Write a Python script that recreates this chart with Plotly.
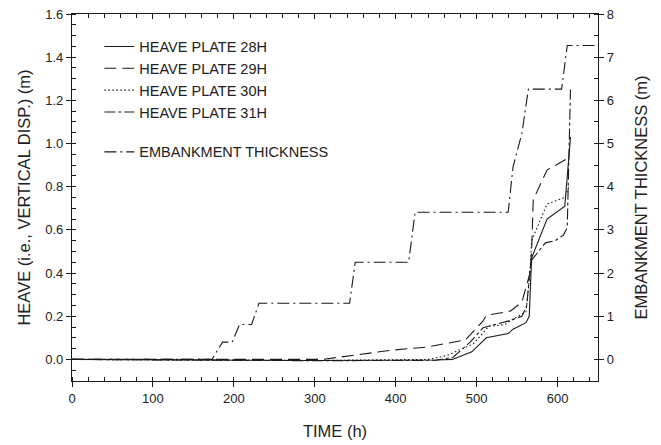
import plotly.graph_objects as go

# ---------------- data ----------------
t_28h = [0, 300, 450, 470, 494, 512, 539, 545, 561, 565, 568, 587, 609, 616]
h_28h = [0.0, -0.005, -0.003, 0.0, 0.035, 0.10, 0.12, 0.14, 0.17, 0.20, 0.47, 0.65, 0.71, 1.03]

t_29h = [0, 300, 310, 393, 438, 486, 508, 512, 542, 556, 566, 568, 570, 587, 605, 612]
h_29h = [0.0, -0.003, 0.0, 0.042, 0.057, 0.09, 0.178, 0.204, 0.224, 0.266, 0.40, 0.506, 0.74, 0.877, 0.915, 0.93]

t_30h = [0, 300, 440, 463, 496, 515, 535, 546, 561, 566, 568, 587, 609, 614]
h_30h = [0.0, -0.005, 0.0, 0.018, 0.072, 0.153, 0.162, 0.189, 0.22, 0.40, 0.55, 0.72, 0.75, 0.80]

t_31h = [0, 300, 450, 471, 492, 508, 541, 556, 562, 566, 568, 585, 597, 607, 612, 616]
h_31h = [0.0, -0.006, -0.004, 0.01, 0.08, 0.147, 0.18, 0.20, 0.25, 0.42, 0.46, 0.54, 0.55, 0.575, 0.61, 1.25]

t_emb = [0, 173, 186, 198, 207, 222, 231, 343, 350, 416, 424, 539, 545, 556, 564, 605, 612, 650]
e_emb = [0, 0, 0.4, 0.4, 0.81, 0.81, 1.3, 1.3, 2.25, 2.25, 3.41, 3.41, 4.46, 5.24, 6.26, 6.26, 7.27, 7.27]

heave_ticks = [0.0, 0.2, 0.4, 0.6, 0.8, 1.0, 1.2, 1.4, 1.6]
emb_ticks = [0, 1, 2, 3, 4, 5, 6, 7, 8]
time_ticks = [0, 100, 200, 300, 400, 500, 600]

# ---------------- styling ----------------
INK = "#1a1a1a"
FONT = "Liberation Sans, Arial, sans-serif"
LW = 1.1

fig = go.Figure()

series = [
    ("HEAVE PLATE 28H", t_28h, h_28h, "solid"),
    ("HEAVE PLATE 29H", t_29h, h_29h, "12px,6px"),
    ("HEAVE PLATE 30H", t_30h, h_30h, "1.5px,2.5px"),
    ("HEAVE PLATE 31H", t_31h, h_31h, "11px,3px,3px,3px"),
]
for name, tx, hy, dash in series:
    fig.add_trace(go.Scatter(
        x=tx, y=hy, name=name, mode="lines",
        line=dict(color=INK, width=LW, dash=dash),
        legendgroup="heave", xaxis="x", yaxis="y"))

fig.add_trace(go.Scatter(
    x=t_emb, y=e_emb, name="EMBANKMENT THICKNESS", mode="lines",
    line=dict(color=INK, width=LW, dash="12px,4px,2px,4px"),
    legendgroup="emb", xaxis="x", yaxis="y2"))

# empty helper trace so the top (mirror) axis is drawn
fig.add_trace(go.Scatter(x=[], y=[], xaxis="x2", yaxis="y",
                         showlegend=False, hoverinfo="skip"))

tickfont = dict(family=FONT, size=13, color="#222")
titlefont = dict(family=FONT, size=16.5, color="#222")

fig.update_layout(
    width=661, height=445,
    margin=dict(l=72, r=63, t=14, b=64, autoexpand=False),
    paper_bgcolor="white", plot_bgcolor="white",
    font=dict(family=FONT, color="#222"),
    showlegend=True,
    legend=dict(
        x=0.052, y=0.955, xanchor="left", yanchor="top",
        bgcolor="rgba(0,0,0,0)", borderwidth=0,
        font=dict(family=FONT, size=14.5, color="#222"),
        traceorder="grouped", tracegroupgap=18,
        itemwidth=30,
    ),
    xaxis=dict(
        range=[0, 650], tickvals=time_ticks, automargin=False,
        showline=True, linecolor=INK, linewidth=1.2,
        ticks="outside", ticklen=5, tickcolor=INK, tickwidth=1,
        minor=dict(dtick=20, tick0=0, ticks="inside", ticklen=4,
                   tickcolor=INK, tickwidth=1),
        showgrid=False, zeroline=False,
        tickfont=tickfont,
        title=dict(text="TIME (h)", font=titlefont, standoff=20),
    ),
    xaxis2=dict(
        range=[0, 650], overlaying="x", side="top", automargin=False,
        tickvals=time_ticks, showticklabels=False,
        showline=True, linecolor=INK, linewidth=1.2,
        ticks="inside", ticklen=5, tickcolor=INK, tickwidth=1,
        minor=dict(dtick=20, tick0=0, ticks="inside", ticklen=4,
                   tickcolor=INK, tickwidth=1),
        showgrid=False, zeroline=False,
    ),
    yaxis=dict(
        range=[-0.1, 1.6], tickvals=heave_ticks, tickformat=".1f", automargin=False,
        showline=True, linecolor=INK, linewidth=1.2,
        ticks="outside", ticklen=5, tickcolor=INK, tickwidth=1,
        minor=dict(dtick=0.05, tick0=0, ticks="inside", ticklen=4,
                   tickcolor=INK, tickwidth=1),
        showgrid=False, zeroline=False,
        tickfont=tickfont,
        title=dict(text="HEAVE (i.e., VERTICAL DISP.) (m)", font=titlefont, standoff=10),
    ),
    yaxis2=dict(
        range=[-0.5, 8], tickvals=emb_ticks, overlaying="y", side="right", automargin=False,
        showline=True, linecolor=INK, linewidth=1.2,
        ticks="outside", ticklen=5, tickcolor=INK, tickwidth=1,
        minor=dict(dtick=0.5, tick0=0, ticks="inside", ticklen=4,
                   tickcolor=INK, tickwidth=1),
        showgrid=False, zeroline=False,
        tickfont=tickfont,
        title=dict(text="EMBANKMENT THICKNESS (m)", font=titlefont, standoff=22),
    ),
)

fig.write_html("out.html")
